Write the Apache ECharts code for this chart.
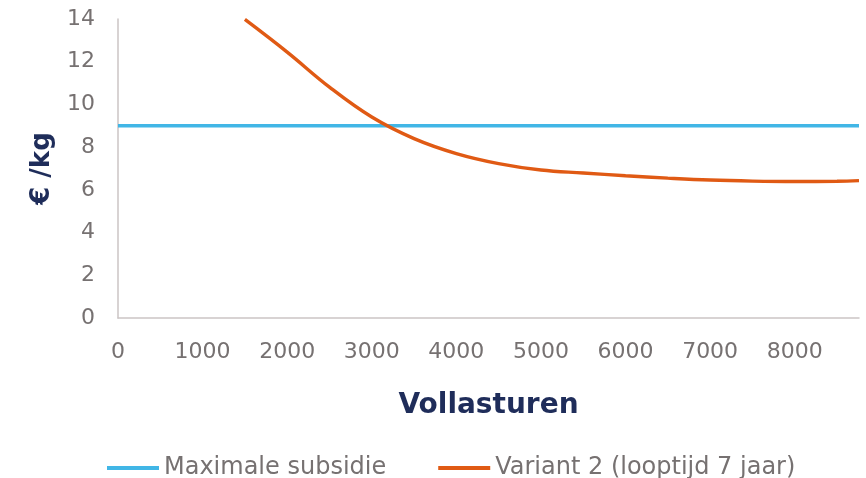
<!DOCTYPE html>
<html><head><meta charset="utf-8">
<script src="https://cdn.jsdelivr.net/npm/echarts@6/dist/echarts.min.js"></script>
<style>html,body{margin:0;padding:0;background:#fff}#c{width:866px;height:478px}</style>
</head><body><div id="c"></div>
<script>
const hours = [1500, 2000, 2500, 3000, 3500, 4000, 4500, 5000, 5500, 6000, 6500, 7000, 7500, 8000, 8500, 8760];
const variant2 = [13.98, 12.45, 10.81, 9.41, 8.40, 7.70, 7.23, 6.93, 6.79, 6.66, 6.55, 6.46, 6.41, 6.39, 6.40, 6.43];
const subsidieHours = [0, 8760];
const subsidie = [9, 9];
const seriesNames = ['Maximale subsidie', 'Variant 2 (looptijd 7 jaar)'];
const xTitle = 'Vollasturen';
const yTitle = '€ /kg';

const chart = echarts.init(document.getElementById('c'));
const font = 'DejaVu Sans, Verdana, sans-serif';
chart.setOption({
  animation: false,
  grid: {left: 118, right: 7, top: 19, bottom: 160},
  legend: {
    top: 451, left: 102,
    itemWidth: 52, itemHeight: 4, itemGap: 52, icon: 'rect',
    textStyle: {fontFamily: font, fontSize: 24, color: '#767171', padding: [0,0,0,0]},
    data: seriesNames
  },
  xAxis: {
    type: 'value', min: 0, max: 8760, interval: 1000,
    name: xTitle, nameLocation: 'middle', nameGap: 74,
    nameTextStyle: {fontFamily: font, fontSize: 28, fontWeight: 'bold', color: '#1F2D5A'},
    axisLine: {show: true, lineStyle: {color: '#CBC5C5', width: 1.5}},
    axisTick: {show: false}, splitLine: {show: false},
    axisLabel: {fontFamily: font, fontSize: 22, color: '#767171', margin: 23, showMaxLabel: false,
                formatter: v => String(v)}
  },
  yAxis: {
    type: 'value', min: 0, max: 14, interval: 2,
    name: yTitle, nameLocation: 'middle', nameGap: 63, nameRotate: 90,
    nameTextStyle: {fontFamily: font, fontSize: 26, fontWeight: 'bold', color: '#1F2D5A'},
    axisLine: {show: true, lineStyle: {color: '#CBC5C5', width: 1.5}},
    axisTick: {show: false}, splitLine: {show: false},
    axisLabel: {fontFamily: font, fontSize: 22, color: '#767171', margin: 23}
  },
  series: [
    {name: seriesNames[0], type: 'line', showSymbol: false, color: '#41B6E6',
     lineStyle: {width: 3.4}, data: subsidieHours.map((h, i) => [h, subsidie[i]])},
    {name: seriesNames[1], type: 'line', showSymbol: false, smooth: 0.4, color: '#E05A14',
     lineStyle: {width: 3.4}, data: hours.map((h, i) => [h, variant2[i]])}
  ]
});
</script></body></html>
